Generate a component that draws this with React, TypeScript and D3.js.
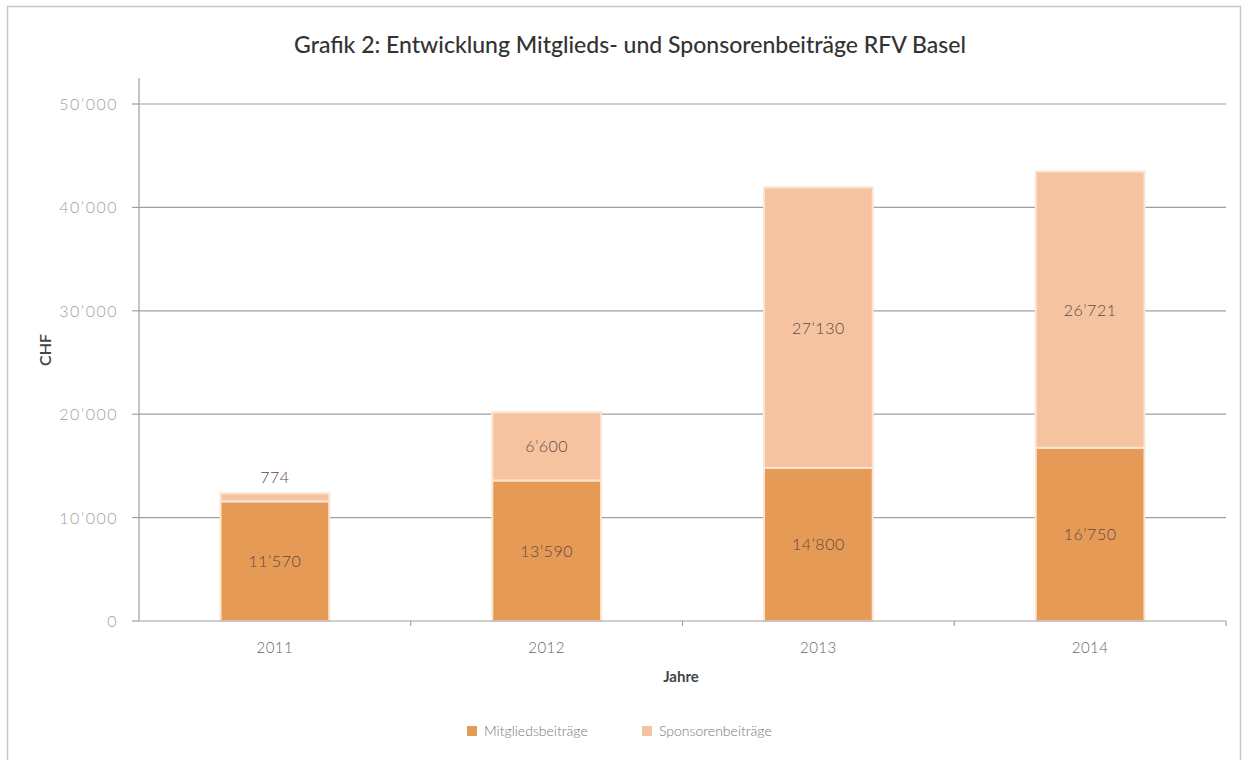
import React from "react";
import * as d3 from "d3";

const years = ["2011", "2012", "2013", "2014"];
const mitglieder = [11570, 13590, 14800, 16750];
const sponsoren = [774, 6600, 27130, 26721];
const yTicks = [0, 10000, 20000, 30000, 40000, 50000];
const seriesNames = ["Mitgliedsbeiträge", "Sponsorenbeiträge"];
const colors = ["#E59B56", "#F6C3A0"];

const fmt = (v: number) => {
  const s = String(v);
  if (s.length <= 3) return s;
  return s.slice(0, s.length - 3) + "\u2019" + s.slice(s.length - 3);
};

export default function App() {
  const W = 1249, H = 760;
  const left = 139, right = 1226, top = 104, bottom = 621;
  const x = d3.scaleBand<string>().domain(years).range([left, right]).paddingInner(0.6).paddingOuter(0.3);
  const y = d3.scaleLinear().domain([0, 50000]).range([bottom, top]);
  const font = "Lato, 'Open Sans', sans-serif";
  const step = x.step();
  const boundaries = years.map((_, i) => left + step * (i + 1));

  return (
    <div style={{ position: "absolute", left: 0, top: 0, width: W, height: H, background: "#fff" }}>
      <svg width={W} height={H} style={{ display: "block" }}>
        <rect x={7.5} y={6.5} width={1233} height={770} fill="#fff" stroke="#c8c8c8" strokeWidth={1.5} />
        <text x={630} y={53} textAnchor="middle" fontFamily={font} fontSize={23} fontWeight={500} fill="#333">
          Grafik 2: Entwicklung Mitglieds- und Sponsorenbeiträge RFV Basel
        </text>
        {yTicks.map((t) => (
          <g key={t}>
            {t > 0 && <line x1={left} x2={right} y1={y(t)} y2={y(t)} stroke="#a0a0a0" strokeWidth={1.2} />}
            <line x1={left - 7} x2={left} y1={y(t)} y2={y(t)} stroke="#a0a0a0" strokeWidth={1.2} />
            <text x={118} y={y(t) + 6} textAnchor="end" fontFamily={font} fontSize={16} fontWeight={300} letterSpacing={1.5} fill="#a0a0a0">
              {fmt(t)}
            </text>
          </g>
        ))}
        <line x1={left} x2={left} y1={78} y2={bottom} stroke="#a0a0a0" strokeWidth={1.2} />
        {boundaries.map((b, i) => (
          <line key={i} x1={b} x2={b} y1={bottom} y2={bottom + 5} stroke="#a0a0a0" strokeWidth={1.2} />
        ))}
        <text transform={`translate(51,350) rotate(-90)`} textAnchor="middle" fontFamily={font} fontSize={16} fontWeight={600} fill="#444">
          CHF
        </text>
        {years.map((yr, i) => {
          const x0 = x(yr)!;
          const bw = x.bandwidth();
          const m = mitglieder[i];
          const s = sponsoren[i];
          const cx = x0 + bw / 2;
          const small = y(m) - y(m + s) < 25;
          return (
            <g key={yr}>
              <rect x={x0} y={y(m)} width={bw} height={y(0) - y(m)} fill={colors[0]} stroke="#fbe4d2" strokeWidth={2} />
              <rect x={x0} y={y(m + s)} width={bw} height={y(m) - y(m + s)} fill={colors[1]} stroke="#fbe4d2" strokeWidth={2} />
              <text x={cx} y={(y(0) + y(m)) / 2 + 6} textAnchor="middle" fontFamily={font} fontSize={16} fontWeight={300} letterSpacing={0.5} fill="#5e4a3e">
                {fmt(m)}
              </text>
              <text
                x={cx}
                y={small ? y(m + s) - 10 : (y(m) + y(m + s)) / 2 + 6}
                textAnchor="middle"
                fontFamily={font}
                fontSize={16}
                fontWeight={300}
                letterSpacing={0.5}
                fill="#5e4a3e"
              >
                {fmt(s)}
              </text>
              <text x={cx} y={bottom + 32} textAnchor="middle" fontFamily={font} fontSize={15} fontWeight={300} letterSpacing={0.5} fill="#666">
                {yr}
              </text>
            </g>
          );
        })}
        <line x1={left} x2={right} y1={bottom} y2={bottom} stroke="#a0a0a0" strokeWidth={1.2} />
        <text x={681} y={682} textAnchor="middle" fontFamily={font} fontSize={15} fontWeight={700} fill="#444">
          Jahre
        </text>
        {seriesNames.map((n, i) => {
          const lx = i === 0 ? 467 : 642;
          return (
            <g key={n}>
              <rect x={lx} y={726} width={10} height={10} fill={colors[i]} />
              <text x={lx + 17} y={736} fontFamily={font} fontSize={14} fontWeight={300} fill="#777">
                {n}
              </text>
            </g>
          );
        })}
      </svg>
    </div>
  );
}
